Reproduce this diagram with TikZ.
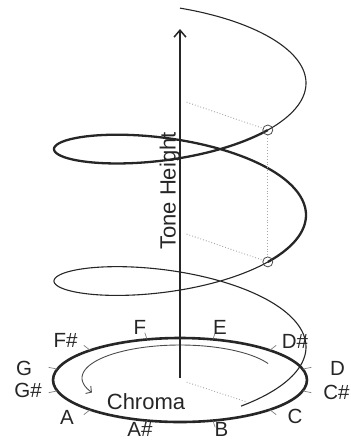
\documentclass[tikz,border=0pt]{standalone}
\usepackage{fontspec}
\setmainfont{Liberation Sans}
\usetikzlibrary{arrows.meta}
\begin{document}
\begin{tikzpicture}[x=1pt,y=-1pt,
  note/.style={font=\fontsize{20.5}{22}\selectfont, inner sep=0pt, text=black!85},
  bigl/.style={font=\fontsize{22}{24}\selectfont, inner sep=0pt, text=black!85},
  thinhelix/.style={line width=1.1pt, draw=black!85},
  thickhelix/.style={line width=2.3pt, draw=black!85},
  dots/.style={draw=gray!70, dotted, line width=0.9pt},
  tickline/.style={draw=gray, line width=0.7pt},
  markcircle/.style={circle, draw=black!70, line width=0.8pt, minimum size=10pt, inner sep=0pt},
]
\useasboundingbox (0,0) rectangle (351,440);

% base chroma circle
\draw[line width=2.6pt, black!85] (180,380) ellipse [x radius=127, y radius=42];
\foreach \a in {15,45,...,345}
  \draw[tickline] ({180+127*cos(\a)},{380-42*sin(\a)}) -- ({180+136*cos(\a)},{380-49*sin(\a)});

% chroma direction arrow
\draw[draw=gray!60!black, line width=0.9pt, -{Straight Barb[length=4pt,width=9pt]}]
  plot[domain=26:206, samples=80, smooth] ({180+98*cos(\x)},{378-33*sin(\x)});

% helix
\draw[thinhelix] plot[domain=-61:314.2, samples=220, smooth] ({180+126*cos(\x)},{347-0.36652*\x-42*sin(\x)});
\draw[thickhelix] plot[domain=314.2:674.2, samples=220, smooth] ({180+126*cos(\x)},{347-0.36652*\x-42*sin(\x)});
\draw[thinhelix] plot[domain=674.2:810, samples=90, smooth] ({180+126*cos(\x)},{347-0.36652*\x-42*sin(\x)});

% tone height axis
\coordinate (axbot) at (180,378);
\coordinate (axtop) at (180,29);
\draw[line width=1.5pt, black!85, -{Straight Barb[length=7pt,width=12pt]}] (axbot) -- (axtop);
\node[bigl, rotate=90] (toneheight) at (170,191) {Tone Height};

% octave-equivalent points
\node[markcircle] (c1) at (267.8,261.9) {};
\node[markcircle] (c2) at (267.8,130.0) {};
\coordinate (h1) at (180,231.8);
\coordinate (h2) at (180,99.9);
\coordinate (b0) at (180,380);
\coordinate (b1) at (247,402);
\draw[dots, shorten <=7pt] (h1) -- (c1);
\draw[dots, shorten <=7pt] (h2) -- (c2);
\draw[dots] (c2) -- (c1);
\draw[dots, shorten <=7pt] (b0) -- (b1);

% labels
\node[bigl] (chroma) at (146,402) {Chroma};
\node[note] (nF)  at (140,327) {F};
\node[note] (nE)  at (220,327) {E};
\node[note] (nFs) at (65.5,340) {F\#};
\node[note] (nDs) at (295,341.5) {D\#};
\node[note] (nG)  at (24,368) {G};
\node[note] (nD)  at (337.5,368) {D};
\node[note] (nGs) at (28,390) {G\#};
\node[note] (nCs) at (336.5,392) {C\#};
\node[note] (nA)  at (67,417.5) {A};
\node[note] (nC)  at (295,416.5) {C};
\node[note] (nAs) at (140,429.5) {A\#};
\node[note] (nB)  at (221.5,429.5) {B};
\end{tikzpicture}
\end{document}
